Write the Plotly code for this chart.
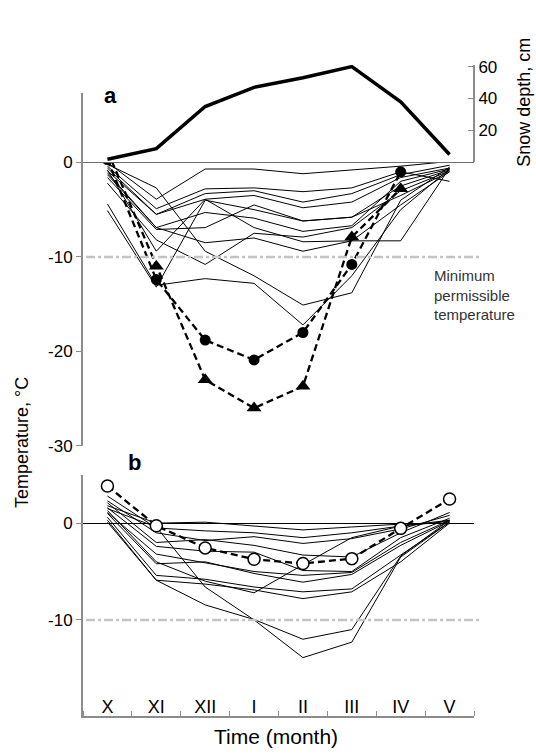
import plotly.graph_objects as go

W, H = 536, 756
months = ["X", "XI", "XII", "I", "II", "III", "IV", "V"]
xpos = list(range(8))

# Panel a: snow depth (cm)
snow_depth = [2, 8.6, 35, 47, 53, 60, 38, 5]

# Panel a: thin temperature lines (°C)
a_lines = [
    [0.0, -3.9, -0.7, -0.7, -1.2, -0.8, -0.4, 0.1],
    [-0.2, -2.7, -9.4, -12.0, -15.1, -13.8, -4.0, -0.5],
    [-0.4, -4.9, -2.8, -2.7, -3.1, -2.7, -1.0, -2.0],
    [-0.6, -5.5, -3.3, -3.0, -4.2, -3.3, -1.3, -0.3],
    [-0.9, -5.5, -3.9, -3.5, -4.8, -4.2, -1.6, -0.6],
    [-1.1, -6.9, -5.3, -5.9, -7.3, -6.7, -2.0, -0.7],
    [-1.6, -7.1, -6.9, -4.5, -6.2, -5.8, -2.5, -0.8],
    [-2.2, -8.2, -10.8, -7.5, -7.9, -6.9, -3.0, -0.9],
    [-0.8, -9.4, -3.9, -6.9, -8.4, -8.3, -8.3, -0.6],
    [-4.4, -13.0, -12.3, -12.8, -17.2, -12.0, -5.0, -0.7],
    [-5.1, -13.2, -4.0, -5.0, -6.2, -5.8, -3.5, -1.0],
    [-1.3, -6.9, -8.5, -8.0, -9.4, -8.3, -4.5, -1.0],
]
a_circles = [0.3, -12.4, -18.8, -20.9, -18.0, -10.8, -1.0, None]
a_triangles = [1.2, -11.0, -23.0, -26.0, -23.7, -7.9, -2.8, None]

# Panel b
b_lines = [
    [1.8, 0.0, 0.1, -0.3, -0.7, -0.4, -0.1, 0.0],
    [2.8, -0.5, -0.8, -1.0, -1.5, -1.0, -0.3, 0.3],
    [2.3, -1.0, -1.8, -1.4, -2.1, -1.6, -0.6, 0.8],
    [2.1, -2.0, -1.7, -2.3, -3.3, -3.5, -1.0, 1.1],
    [1.6, -2.4, -2.9, -3.0, -4.9, -5.0, -1.5, 0.5],
    [1.1, -3.2, -4.1, -5.0, -5.4, -5.1, -2.0, 0.3],
    [1.0, -4.2, -4.0, -5.2, -6.1, -5.3, -2.3, 0.2],
    [0.6, -5.4, -5.8, -6.6, -7.1, -6.8, -3.3, 0.1],
    [0.3, -5.9, -6.3, -6.9, -7.8, -7.1, -4.0, 0.0],
    [1.3, -4.0, -6.0, -7.2, -4.3, -1.5, -0.3, 0.2],
    [1.5, -0.4, -6.6, -10.0, -13.9, -12.3, -3.5, 0.1],
    [0.1, -5.9, -8.45, -9.96, -12.0, -11.0, -3.4, 0.3],
]
b_circles = [3.84, -0.27, -2.56, -3.74, -4.17, -3.67, -0.54, 2.49]

a_ticks = [0, -10, -20, -30]
b_ticks = [0, -10]
snow_ticks = [20, 40, 60]
min_temp = -10

FONT = "Liberation Sans, Arial, sans-serif"
GRAY = "#8c8c8c"
DASH = "7px,4px"

def px(x):
    return x / W

def py(y):
    return 1 - y / H

fig = go.Figure()

for ln in a_lines:
    fig.add_trace(go.Scatter(x=xpos, y=ln, mode="lines", xaxis="x", yaxis="y",
                             line=dict(color="black", width=1), showlegend=False))
fig.add_trace(go.Scatter(x=xpos, y=a_circles, mode="lines+markers", xaxis="x", yaxis="y",
                         line=dict(color="black", width=2.3, dash=DASH),
                         marker=dict(symbol="circle", size=11, color="black"), showlegend=False))
fig.add_trace(go.Scatter(x=xpos, y=a_triangles, mode="lines+markers", xaxis="x", yaxis="y",
                         line=dict(color="black", width=2.3, dash=DASH),
                         marker=dict(symbol="triangle-up", size=13, color="black"), showlegend=False))
fig.add_trace(go.Scatter(x=xpos, y=snow_depth, mode="lines", xaxis="x", yaxis="y3",
                         line=dict(color="black", width=3.5), showlegend=False))

for ln in b_lines:
    fig.add_trace(go.Scatter(x=xpos, y=ln, mode="lines", xaxis="x2", yaxis="y2",
                             line=dict(color="black", width=1), showlegend=False))
fig.add_trace(go.Scatter(x=xpos, y=b_circles, mode="lines+markers", xaxis="x2", yaxis="y2",
                         line=dict(color="black", width=2.3, dash=DASH),
                         marker=dict(symbol="circle", size=12, color="white",
                                     line=dict(color="black", width=1.5)), showlegend=False))

xdom = [px(83), px(474)]
tickfont = dict(family=FONT, size=17, color="black")

fig.update_layout(
    width=W, height=H, margin=dict(l=0, r=0, t=0, b=0),
    paper_bgcolor="white", plot_bgcolor="white",
    font=dict(family=FONT, color="black"),
    xaxis=dict(domain=xdom, range=[-0.5, 7.5], anchor="y", visible=False),
    xaxis2=dict(domain=xdom, range=[-0.5, 7.5], anchor="y2", showgrid=False, zeroline=False,
                showline=True, linecolor=GRAY, linewidth=2,
                tickmode="array", tickvals=xpos, ticktext=months, ticks="",
                ticklabelposition="inside", tickfont=dict(family=FONT, size=18, color="black"),
                minor=dict(tick0=0.5, dtick=1, ticks="inside", ticklen=5, tickcolor=GRAY,
                           tickwidth=1, showgrid=False)),
    yaxis=dict(domain=[py(449), py(88)], range=[-30, 7.34], anchor="x", showgrid=False,
               zeroline=True, zerolinecolor="black", zerolinewidth=1,
               showline=True, linecolor=GRAY, linewidth=2,
               tickmode="array", tickvals=a_ticks, ticktext=[str(v) for v in a_ticks],
               ticks="outside", ticklen=5, tickcolor=GRAY, tickfont=tickfont),
    yaxis2=dict(domain=[py(725), py(479)], range=[-19.9, 4.95], anchor="x2", showgrid=False,
                zeroline=True, zerolinecolor="black", zerolinewidth=1,
                showline=True, linecolor=GRAY, linewidth=2,
                tickmode="array", tickvals=b_ticks, ticktext=[str(v) for v in b_ticks],
                ticks="outside", ticklen=5, tickcolor=GRAY, tickfont=tickfont),
    yaxis3=dict(domain=[py(159), py(59)], range=[0, 61.2], anchor="free", position=px(474),
                side="right", showgrid=False, zeroline=False,
                showline=True, linecolor=GRAY, linewidth=2,
                tickmode="array", tickvals=snow_ticks, ticktext=[str(v) for v in snow_ticks],
                ticks="inside", ticklen=5, tickcolor=GRAY, tickfont=tickfont),
)

# Minimum permissible temperature lines
for yref in ["y", "y2"]:
    fig.add_shape(type="line", xref="paper", yref=yref, x0=px(86), x1=px(480),
                  y0=min_temp, y1=min_temp,
                  line=dict(color="#c4c4c4", width=2.5, dash="dashdot"))

ann = [
    dict(text="<b>a</b>", x=px(110), y=py(91), size=22, angle=0),
    dict(text="<b>b</b>", x=px(134), y=py(466), size=22, angle=0),
    dict(text="Temperature, °C", x=px(22), y=py(446), size=18, angle=-90),
    dict(text="Snow depth, cm", x=px(524), y=py(98), size=18, angle=-90),
    dict(text="Time (month)", x=px(276), y=py(746), size=21, angle=0),
]
for a in ann:
    fig.add_annotation(text=a["text"], x=a["x"], y=a["y"], xref="paper", yref="paper",
                       showarrow=False, textangle=a["angle"], xanchor="center", yanchor="middle",
                       font=dict(family=FONT, size=a["size"], color="black"))
fig.add_annotation(text="Minimum<br>permissible<br>temperature", x=px(432), y=py(295),
                   xref="paper", yref="paper", showarrow=False, xanchor="left", yanchor="middle",
                   align="left", font=dict(family=FONT, size=15, color="#333333"))

fig.write_html("out.html")
